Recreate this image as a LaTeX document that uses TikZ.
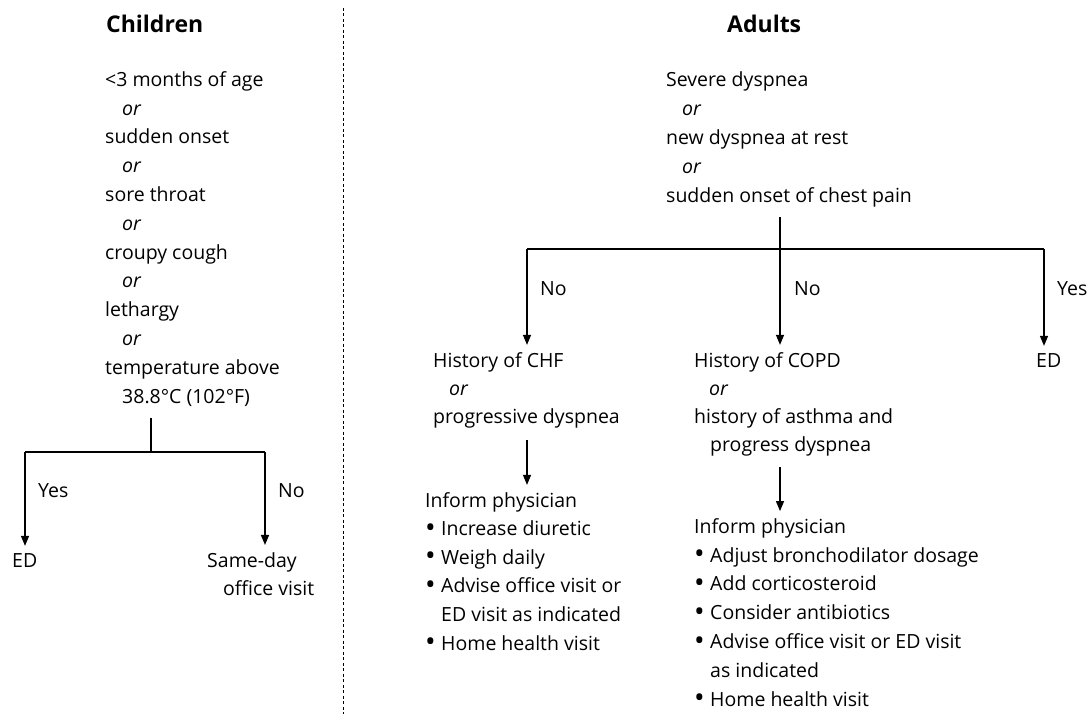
\documentclass[tikz,border=0pt]{standalone}
\usepackage{fontspec}
\setmainfont{Open Sans}
\usetikzlibrary{arrows.meta}
\begin{document}
\begin{tikzpicture}[x=1pt,y=-1pt,
  txt/.style={inner sep=0pt, anchor=base west, align=left, font=\fontsize{19.5}{28.8}\selectfont},
  head/.style={inner sep=0pt, anchor=base west, font=\fontsize{23}{28}\selectfont\bfseries},
  conn/.style={line width=1.3pt},
  overlap/.style={line width=2.2pt},
  arr/.style={conn, -{Triangle[length=10pt,width=8pt]}, shorten >=7pt},
  divider/.style={line width=0.9pt, dash pattern=on 3pt off 2.5pt}]
\useasboundingbox (0,0) rectangle (1089,714);
\newcommand{\ind}{\hspace*{17pt}}
\newcommand{\bul}{\makebox[16pt][l]{\raisebox{-1.6pt}{\scalebox{1.45}{•}}}}

% divider
\coordinate (dtop) at (343,8);
\coordinate (dbot) at (343,714);
\draw[divider] (dtop) -- (dbot);

% headings
\node[head] (chh) at (106,33) {Children};
\node[head] (adh) at (727,33) {Adults};

% ---------- Children ---------- (anchor = baseline of last line)
\node[txt] (cq) at (105,403) {<3 months of age\\ \ind\textit{or}\\ sudden onset\\ \ind\textit{or}\\ sore throat\\ \ind\textit{or}\\ croupy cough\\ \ind\textit{or}\\ lethargy\\ \ind\textit{or}\\ temperature above\\ \ind 38.8°C (102°F)};
\node[txt] (ced) at (12,567) {ED};
\node[txt, font=\fontsize{19.5}{28}\selectfont] (csd) at (207,595) {Same-day\\ \hspace*{16pt}office visit};
\node[txt] (cyes) at (38,497) {Yes};
\node[txt] (cno) at (278,497) {No};

\coordinate (cj) at (151,452);
\coordinate (cl) at (25,452);
\coordinate (cr) at (265,452);
\coordinate (co1) at (125,452);
\coordinate (co2) at (167,452);
\draw[conn] ([yshift=-12pt]cq.south -| cj) -- (cj);
\draw[conn] (cl) -- (cr);
\draw[overlap] (co1) -- (co2);
\draw[arr] (cl) -- (cl |- ced.north);
\draw[arr] (cr) -- (cr |- csd.north);

% ---------- Adults ----------
\node[txt, font=\fontsize{19.5}{29}\selectfont] (aq) at (666,203) {Severe dyspnea\\ \hspace*{16pt}\textit{or}\\ new dyspnea at rest\\ \hspace*{16pt}\textit{or}\\ sudden onset of chest pain};
\node[txt, font=\fontsize{19.5}{28}\selectfont] (chf) at (433,423) {History of CHF\\ \hspace*{16pt}\textit{or}\\ progressive dyspnea};
\node[txt, font=\fontsize{19.5}{28}\selectfont] (copd) at (694,451) {History of COPD\\ \hspace*{15pt}\textit{or}\\ history of asthma and\\ \hspace*{16pt}progress dyspnea};
\node[txt] (aed) at (1036,367) {ED};
\node[txt] (ano1) at (540,295) {No};
\node[txt] (ano2) at (794,295) {No};
\node[txt] (ayes) at (1057,295) {Yes};

\node[txt, font=\fontsize{19.5}{28.6}\selectfont] (infl) at (425,650) {Inform physician\\ \bul Increase diuretic\\ \bul Weigh daily\\ \bul Advise office visit or\\ \hspace*{16pt}ED visit as indicated\\ \bul Home health visit};
\node[txt, font=\fontsize{19.5}{28.8}\selectfont] (infr) at (694,706) {Inform physician\\ \bul Adjust bronchodilator dosage\\ \bul Add corticosteroid\\ \bul Consider antibiotics\\ \bul Advise office visit or ED visit\\ \hspace*{16pt}as indicated\\ \bul Home health visit};

\coordinate (aj) at (780,249);
\coordinate (al) at (527,249);
\coordinate (ar) at (1044,249);
\coordinate (ao2) at (666,249);
\draw[conn] ([yshift=-9pt]aq.south -| aj) -- (aj);
\draw[conn] (al) -- (ar);
\draw[overlap] (al) -- (ao2);
\draw[arr] (al) -- (al |- chf.north);
\draw[arr] (aj) -- (aj |- copd.north);
\draw[arr] (ar) -- (ar |- aed.north);
\draw[arr] ([yshift=-12pt]chf.south -| al) -- (al |- infl.north);
\draw[arr] ([yshift=-11pt]copd.south -| aj) -- (aj |- infr.north);
\end{tikzpicture}
\end{document}
